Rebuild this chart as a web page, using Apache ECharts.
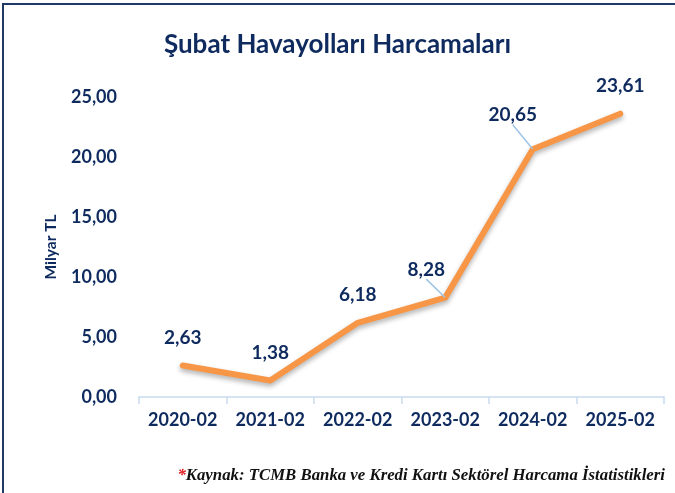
<!DOCTYPE html>
<html>
<head>
<meta charset="utf-8">
<script src="https://cdn.jsdelivr.net/npm/echarts@6/dist/echarts.min.js"></script>
<style>
  html, body { margin: 0; padding: 0; background: #fff; }
  #main { width: 675px; height: 493px; }
</style>
</head>
<body>
<div id="main"></div>
<script>
// kategoriler ve değerler (Milyar TL)
const months = ["2020-02", "2021-02", "2022-02", "2023-02", "2024-02", "2025-02"];
const spending = [2.63, 1.38, 6.18, 8.28, 20.65, 23.61];
const yTicks = [0, 5, 10, 15, 20, 25];

const navy = "#0E2A5E";
const fmt = v => v.toFixed(2).replace(".", ",");

// etiket kaydırmaları (leader line olanlar)
const labelShift = {
  3: { dx: -19, dy: 0 },
  4: { dx: -20, dy: -6 }
};

const myChart = echarts.init(document.getElementById("main"));
const option = {
  backgroundColor: "#fff",
  textStyle: { fontFamily: "Lato" },
  title: {
    text: "Şubat Havayolları Harcamaları",
    left: "center",
    top: 27,
    textStyle: { color: navy, fontSize: 26, fontWeight: "bold", fontFamily: "Lato" }
  },
  graphic: [
    {
      type: "rect",
      shape: { x: 3, y: 4, width: 700, height: 520 },
      style: { fill: "none", stroke: "#1F3864", lineWidth: 2 },
      silent: true
    },
    {
      type: "text",
      right: 10,
      top: 467,
      style: {
        text: "{r|*}{t|Kaynak: TCMB Banka ve Kredi Kartı Sektörel Harcama İstatistikleri}",
        rich: {
          r: { fill: "#E02020", fontSize: 16.8, fontStyle: "italic", fontWeight: "bold", fontFamily: "Liberation Serif" },
          t: { fill: "#111", fontSize: 16.8, fontStyle: "italic", fontWeight: "bold", fontFamily: "Liberation Serif" }
        }
      }
    }
  ],
  grid: { left: 139, right: 11, top: 97, bottom: 96 },
  xAxis: {
    type: "category",
    data: months,
    boundaryGap: true,
    axisLine: { lineStyle: { color: "#C9DAEE", width: 1.5 } },
    axisTick: { show: true, length: 7, lineStyle: { color: "#C9DAEE", width: 1.5 } },
    axisLabel: { color: navy, fontSize: 18, fontWeight: "bold", margin: 14, interval: 0 }
  },
  yAxis: {
    type: "value",
    min: 0,
    max: 25,
    interval: 5,
    name: "Milyar TL",
    nameLocation: "middle",
    nameGap: 80,
    nameTextStyle: { color: navy, fontSize: 15.5, fontWeight: "bold" },
    splitLine: { show: false },
    axisLine: { show: false },
    axisTick: { show: false },
    axisLabel: {
      color: navy,
      fontSize: 18,
      fontWeight: "bold",
      margin: 22,
      formatter: v => yTicks.includes(v) ? fmt(v) : ""
    }
  },
  series: [
    {
      name: "Harcama",
      type: "line",
      data: spending.map((v, i) => ({
        value: v,
        labelLine: { show: !!labelShift[i] }
      })),
      symbol: "circle",
      symbolSize: 1,
      showSymbol: true,
      itemStyle: { color: "rgba(0,0,0,0)" },
      lineStyle: {
        color: "#F79646",
        width: 6,
        cap: "round",
        join: "round",
        shadowColor: "rgba(0,0,0,0.3)",
        shadowBlur: 5,
        shadowOffsetY: 3
      },
      label: {
        show: true,
        position: "top",
        distance: 18,
        color: navy,
        fontSize: 19,
        fontWeight: "bold",
        formatter: p => fmt(p.value)
      },
      labelLine: {
        show: false,
        lineStyle: { color: "#9DC3E6", width: 1.5 }
      },
      labelLayout: p => labelShift[p.dataIndex] || {}
    }
  ]
};
myChart.setOption(option);
</script>
</body>
</html>
